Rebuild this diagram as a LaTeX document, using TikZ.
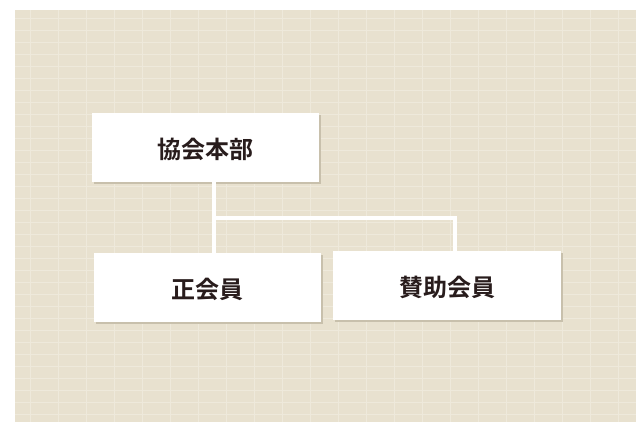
\documentclass[tikz,border=0pt]{standalone}
\usepackage{fontspec}
\newfontfamily\jpfont{Noto Sans CJK JP}[BoldFont={* Bold}]
\definecolor{bgbeige}{RGB}{232,225,207}
\definecolor{bgline}{RGB}{238,233,219}
\definecolor{shadowc}{RGB}{200,192,172}
\definecolor{textc}{RGB}{40,28,28}
\begin{document}
\begin{tikzpicture}[x=1pt,y=1pt,
  orgbox/.style={draw=none,fill=white,minimum width=227pt,minimum height=69pt,
    inner sep=0pt,text=textc,font=\jpfont\bfseries\fontsize{24}{24}\selectfont,
    text depth=0pt},
  conn/.style={draw=white,line width=4.5pt},
  connshadow/.style={draw=shadowc,line width=4.5pt}]
\useasboundingbox (0,0) rectangle (642,422);
\fill[white] (0,0) rectangle (642,422);
\fill[bgbeige] (15,0) rectangle (636,412);
% subtle texture
\foreach \y in {8,20,...,404} {\draw[bgline,line width=0.8pt] (15,\y) -- (636,\y);}
\foreach \x in {30,58,...,630} {\draw[bgline,line width=0.6pt] (\x,0) -- (\x,412);}
% shadows of boxes
\fill[shadowc] (94,238) rectangle (321,307);
\fill[shadowc] (96,98) rectangle (323,167);
\fill[shadowc] (335,100) rectangle (563,169);
% connector points
\coordinate (j) at (214,204);
\coordinate (r) at (455,204);
% nodes
\node[orgbox] (top) at (205.5,274.5) {\raisebox{-1.5pt}{協会本部}};
\node[orgbox] (left) at (207.5,134.5) {\raisebox{-1pt}{正会員}};
\node[orgbox,minimum width=228pt] (right) at (447,136.5) {\raisebox{-1pt}{賛助会員}};
% connectors
\begin{scope}[shift={(1.5,-1.5)}]
\draw[connshadow] (top.south -| j) -- (j) -- (r) -- (right.north -| r);
\draw[connshadow] (j) -- (left.north -| j);
\end{scope}
\draw[conn] (top.south -| j) -- (left.north -| j);
\draw[conn] (j) -- (r) -- (right.north -| r);
\end{tikzpicture}
\end{document}
